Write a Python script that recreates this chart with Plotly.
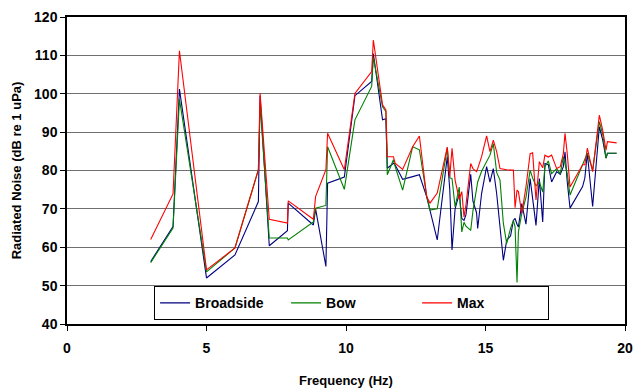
import plotly.graph_objects as go

freq = [3.0, 3.8, 4.03, 5.0, 6.02, 6.86, 6.92, 7.25, 7.9, 7.93, 8.83, 8.91, 9.28, 9.34, 9.94,
        10.32, 10.92, 10.98, 11.31, 11.43, 11.48, 11.7, 11.76, 12.03, 12.39, 12.63, 12.89, 13.01,
        13.27, 13.63, 13.72, 13.80, 13.91, 14.06, 14.15, 14.23, 14.30, 14.47, 14.55, 14.68, 14.72,
        14.86, 15.04, 15.16, 15.28, 15.40, 15.52, 15.64, 15.76, 15.90, 16.0, 16.06, 16.13, 16.18,
        16.3, 16.45, 16.6, 16.69, 16.81, 16.93, 17.05, 17.13, 17.25, 17.37, 17.55, 17.68, 17.79,
        17.85, 17.93, 18.03, 18.48, 18.56, 18.65, 18.84, 19.08, 19.2, 19.32, 19.37, 19.7]

broadside = [56.3, 65.4, 101.2, 52.0, 58.0, 71.9, 99.5, 60.4, 64.3, 71.5, 65.8, 70.0, 55.0, 76.7, 78.3,
             99.5, 103.2, 110.5, 93.2, 93.5, 80.6, 81.9, 81.5, 77.7, 78.4, 78.9, 73.2, 69.7,
             61.9, 83.6, 75.0, 59.3, 70.0, 74.0, 67.5, 67.0, 68.5, 79.0, 72.0, 69.0, 64.9,
             74.0, 81.0, 77.0, 80.5, 74.0, 65.0, 56.6, 61.8, 63.0, 67.0, 67.5, 66.0, 65.3,
             71.4, 66.0, 77.9, 72.0, 65.7, 77.9, 66.6, 81.8, 81.5, 77.0, 79.7, 79.0, 81.0,
             84.9, 77.0, 70.2, 75.8, 78.0, 84.5, 70.6, 91.4, 88.0, 83.2, 84.5, 84.5]

bow = [56.0, 65.0, 98.6, 53.6, 59.8, 80.2, 97.5, 62.4, 62.4, 61.9, 66.6, 70.2, 70.9, 86.2, 75.1,
       93.2, 101.9, 109.5, 96.6, 95.4, 78.9, 82.8, 81.1, 74.9, 86.2, 85.4, 73.5, 69.7,
       70.0, 85.9, 78.1, 77.9, 70.5, 75.7, 64.0, 66.5, 65.5, 64.4, 69.5, 75.0, 77.0,
       79.8, 82.5, 84.0, 87.0, 79.5, 77.5, 66.2, 61.0, 65.0, 67.0, 65.3, 50.8, 64.0,
       68.8, 73.0, 80.1, 78.0, 76.0, 77.0, 74.4, 81.0, 82.5, 79.2, 80.5, 79.2, 83.6,
       82.0, 79.2, 73.6, 81.4, 82.5, 84.5, 80.1, 92.7, 89.5, 83.2, 84.5, 84.5]

maxv = [62.0, 73.9, 111.2, 54.1, 59.8, 80.2, 100.1, 67.3, 66.3, 72.1, 67.3, 73.2, 80.2, 89.7, 80.2,
        100.1, 105.8, 114.0, 97.1, 95.8, 83.6, 83.6, 81.9, 80.3, 86.2, 89.0, 73.2, 71.5,
        74.1, 86.1, 78.4, 85.8, 77.5, 72.5, 74.5, 67.9, 71.0, 81.8, 80.5, 79.7, 80.5,
        83.6, 89.0, 84.9, 87.9, 84.9, 80.5, 80.3, 80.2, 80.1, 80.1, 70.3, 74.9, 74.5,
        68.8, 75.7, 84.4, 84.6, 72.3, 82.3, 80.7, 84.0, 83.5, 84.0, 80.5, 81.0, 84.4,
        89.7, 84.4, 75.7, 81.5, 81.5, 85.8, 79.7, 94.4, 90.5, 85.3, 87.5, 87.2]

series_names = ["Broadside", "Bow", "Max"]
series_colors = ["#000080", "#008000", "#FF0000"]
x_ticks = [0, 5, 10, 15, 20]
y_ticks = [40, 50, 60, 70, 80, 90, 100, 110, 120]

FONT = "Liberation Sans, Arial, sans-serif"
fig = go.Figure()
for name, vals, color in zip(series_names, [broadside, bow, maxv], series_colors):
    fig.add_trace(go.Scatter(x=freq, y=vals, mode="lines", name="<b>" + name + "</b>",
                             line=dict(color=color, width=1.1)))

fig.update_layout(
    width=635, height=388,
    margin=dict(l=67, r=10, t=17, b=64),
    paper_bgcolor="white", plot_bgcolor="white",
    font=dict(family=FONT, size=14, color="black"),
    showlegend=True,
    legend=dict(orientation="h", x=0.51, xanchor="center", y=0.012, yanchor="bottom",
                bordercolor="black", borderwidth=1, bgcolor="white",
                font=dict(family=FONT, size=14, color="black"),
                entrywidth=86, entrywidthmode="pixels",
                itemwidth=30, tracegroupgap=0),
    xaxis=dict(range=[0, 20], tickvals=x_ticks, ticktext=["<b>%d</b>" % v for v in x_ticks],
               showgrid=False, zeroline=False, automargin=False,
               showline=True, linecolor="black", linewidth=1.5, mirror=True,
               ticks="outside", ticklen=5, tickcolor="black", ticklabelstandoff=5,
               tickfont=dict(family=FONT, size=14, color="black"),
               title=dict(text="<b>Frequency (Hz)</b>", standoff=29,
                          font=dict(family=FONT, size=13, color="black"))),
    yaxis=dict(range=[40, 120], tickvals=y_ticks, ticktext=["<b>%d</b>" % v for v in y_ticks],
               showgrid=True, gridcolor="#707070", gridwidth=1.3,
               zeroline=False, showline=True, linecolor="black", linewidth=1.5, mirror=True,
               ticks="outside", ticklen=5, tickcolor="black", automargin=False,
               tickfont=dict(family=FONT, size=14, color="black"),
               title=dict(text="<b>Radiated Noise (dB re 1 uPa)</b>", standoff=10,
                          font=dict(family=FONT, size=13, color="black"))),
)

# remove the default 8px page margin so the 635x388 figure fills the window exactly
fig.write_html("out.html", config={"displayModeBar": False},
               post_script="document.body.style.margin='0';")
